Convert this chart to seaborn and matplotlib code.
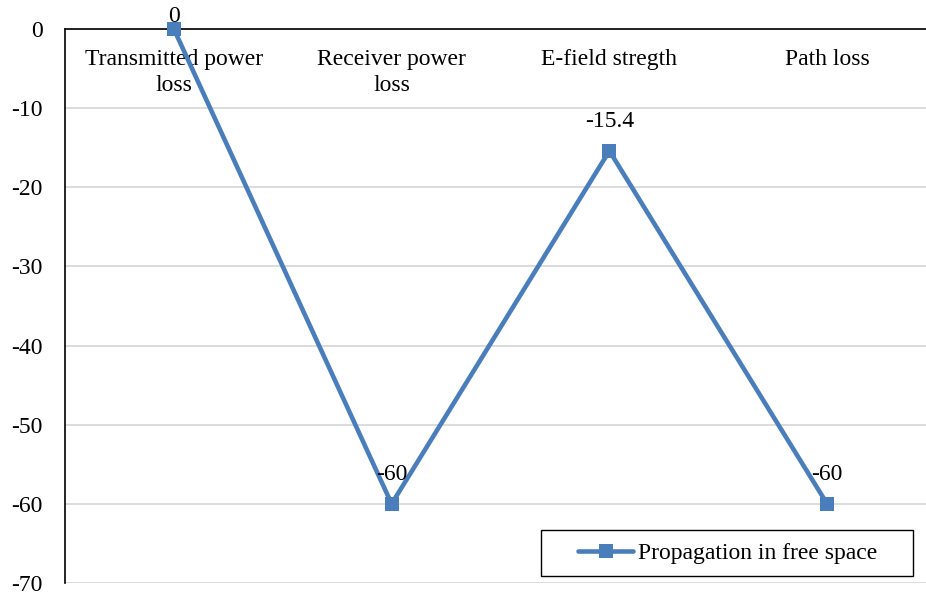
"""Propagation in free space line chart."""

import matplotlib
matplotlib.use("Agg")
import matplotlib.pyplot as plt
from matplotlib.patches import Rectangle
import pandas as pd
import seaborn as sns

categories = ["Transmitted power\nloss", "Receiver power\nloss", "E-field stregth", "Path loss"]
values = [0, -60, -15.4, -60]
value_labels = ["0", "-60", "-15.4", "-60"]
series_name = "Propagation in free space"
y_ticks = [0, -10, -20, -30, -40, -50, -60, -70]

LINE_COLOR = "#4a7ebb"
FS = 17

sns.set_theme(style="white")
plt.rcParams["font.family"] = ["Liberation Serif", "DejaVu Serif"]
plt.rcParams["text.color"] = "black"
plt.rcParams["ytick.color"] = "black"

df = pd.DataFrame({"category": categories, "value": values})

fig = plt.figure(figsize=(9.26, 5.96), dpi=100)
ax = fig.add_axes([65 / 926, 13 / 596, 871 / 926, 554 / 596])

sns.lineplot(data=df, x="category", y="value", ax=ax, color=LINE_COLOR,
             linewidth=3.3, marker="s", markersize=10, markeredgewidth=0,
             label=series_name, sort=False, clip_on=False, zorder=5)

ax.set_xlim(-0.5, 3.5)
ax.set_ylim(-70, 0)
ax.set_yticks(y_ticks)
ax.set_yticklabels([str(t) for t in y_ticks], fontsize=FS)
ax.tick_params(axis="y", length=0, pad=16)
ax.set_xticks([])
ax.set_xlabel("")
ax.set_ylabel("")

ax.grid(axis="y", color="#d9d9d9", linewidth=1.3)
ax.set_axisbelow(True)
for side in ["right", "bottom"]:
    ax.spines[side].set_visible(False)
for side in ["top", "left"]:
    ax.spines[side].set_color("black")
    ax.spines[side].set_linewidth(1.2)

for i, cat in enumerate(categories):
    ax.text(i, -2.5, cat, ha="center", va="top", fontsize=FS, linespacing=1.3)

for i, (v, lab) in enumerate(zip(values, value_labels)):
    dy = 21 if v < 0 else 9
    ax.annotate(lab, (i, v), xytext=(0, dy), textcoords="offset points",
                ha="center", va="center", fontsize=FS, annotation_clip=False,
                zorder=6)

# legend: frameless entries inside a drawn box
leg = ax.legend(loc="center left", bbox_to_anchor=(578 / 926, (596 - 553) / 596),
                bbox_transform=fig.transFigure, fontsize=FS, frameon=False,
                borderpad=0, borderaxespad=0, handlelength=2.35,
                handletextpad=0.2)
fig.patches.append(Rectangle((541 / 926, 20 / 596), 372 / 926, 46 / 596,
                             transform=fig.transFigure, fill=False,
                             edgecolor="black", linewidth=1.0))

fig.savefig("out.png", dpi=100)
plt.close(fig)
